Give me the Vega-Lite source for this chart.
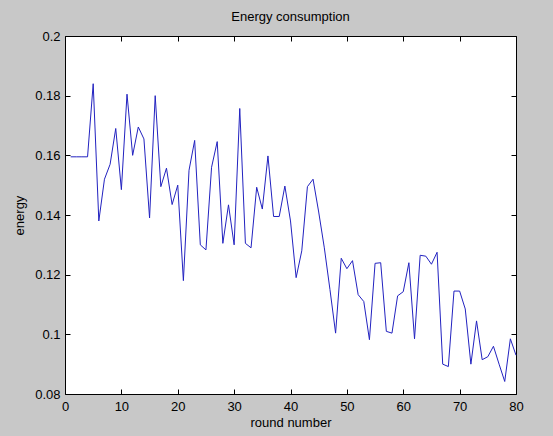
{
  "$schema": "https://vega.github.io/schema/vega-lite/v6.json",
  "autosize": "none",
  "width": 451,
  "height": 358,
  "padding": {"left": 65, "top": 36, "right": 37, "bottom": 42},
  "background": "#c8c8c8",
  "config": {
    "font": "Liberation Sans",
    "view": {"fill": "white", "stroke": "black", "strokeWidth": 1}
  },
  "title": {"text": "Energy consumption", "fontSize": 13, "fontWeight": "normal", "color": "black", "offset": 6, "frame": "group", "font": "Liberation Sans"},
  "data": {"values": [
    {"round": 1, "energy": 0.1595}, {"round": 2, "energy": 0.1595}, {"round": 3, "energy": 0.1595}, {"round": 4, "energy": 0.1595},
    {"round": 5, "energy": 0.184}, {"round": 6, "energy": 0.138}, {"round": 7, "energy": 0.152}, {"round": 8, "energy": 0.157},
    {"round": 9, "energy": 0.169}, {"round": 10, "energy": 0.1485}, {"round": 11, "energy": 0.1805}, {"round": 12, "energy": 0.16},
    {"round": 13, "energy": 0.1695}, {"round": 14, "energy": 0.1655}, {"round": 15, "energy": 0.139}, {"round": 16, "energy": 0.18},
    {"round": 17, "energy": 0.1495}, {"round": 18, "energy": 0.1557}, {"round": 19, "energy": 0.1435}, {"round": 20, "energy": 0.15},
    {"round": 21, "energy": 0.118}, {"round": 22, "energy": 0.155}, {"round": 23, "energy": 0.165}, {"round": 24, "energy": 0.13},
    {"round": 25, "energy": 0.1283}, {"round": 26, "energy": 0.156}, {"round": 27, "energy": 0.1646}, {"round": 28, "energy": 0.1305},
    {"round": 29, "energy": 0.1434}, {"round": 30, "energy": 0.13}, {"round": 31, "energy": 0.1757}, {"round": 32, "energy": 0.1305},
    {"round": 33, "energy": 0.129}, {"round": 34, "energy": 0.1493}, {"round": 35, "energy": 0.142}, {"round": 36, "energy": 0.1598},
    {"round": 37, "energy": 0.1395}, {"round": 38, "energy": 0.1395}, {"round": 39, "energy": 0.1497}, {"round": 40, "energy": 0.138},
    {"round": 41, "energy": 0.119}, {"round": 42, "energy": 0.128}, {"round": 43, "energy": 0.1495}, {"round": 44, "energy": 0.152},
    {"round": 45, "energy": 0.141}, {"round": 46, "energy": 0.129}, {"round": 47, "energy": 0.115}, {"round": 48, "energy": 0.1004},
    {"round": 49, "energy": 0.1255}, {"round": 50, "energy": 0.122}, {"round": 51, "energy": 0.1247}, {"round": 52, "energy": 0.1133},
    {"round": 53, "energy": 0.111}, {"round": 54, "energy": 0.0982}, {"round": 55, "energy": 0.1238}, {"round": 56, "energy": 0.124},
    {"round": 57, "energy": 0.101}, {"round": 58, "energy": 0.1004}, {"round": 59, "energy": 0.1129}, {"round": 60, "energy": 0.1143},
    {"round": 61, "energy": 0.124}, {"round": 62, "energy": 0.0985}, {"round": 63, "energy": 0.1265}, {"round": 64, "energy": 0.1262},
    {"round": 65, "energy": 0.1235}, {"round": 66, "energy": 0.1275}, {"round": 67, "energy": 0.09}, {"round": 68, "energy": 0.0892},
    {"round": 69, "energy": 0.1145}, {"round": 70, "energy": 0.1145}, {"round": 71, "energy": 0.1085}, {"round": 72, "energy": 0.09},
    {"round": 73, "energy": 0.1045}, {"round": 74, "energy": 0.0915}, {"round": 75, "energy": 0.0925}, {"round": 76, "energy": 0.096},
    {"round": 77, "energy": 0.09}, {"round": 78, "energy": 0.0842}, {"round": 79, "energy": 0.0985}, {"round": 80, "energy": 0.093}
  ]},
  "layer": [
    {
      "mark": {"type": "line", "color": "#2222c0", "strokeWidth": 1},
      "encoding": {
        "x": {"field": "round", "type": "quantitative",
          "scale": {"domain": [0, 80], "nice": false, "zero": false},
          "axis": {"orient": "bottom", "title": "round number", "values": [0,10,20,30,40,50,60,70,80],
            "grid": false, "domain": false, "tickColor": "black", "tickSize": -5, "labelPadding": 11, "labelFlush": false,
            "labelFontSize": 13, "labelColor": "black", "titleFontSize": 13, "titleFontWeight": "normal", "titleColor": "black", "titlePadding": 3}},
        "y": {"field": "energy", "type": "quantitative",
          "scale": {"domain": [0.08, 0.2], "nice": false, "zero": false},
          "axis": {"orient": "left", "title": "energy", "values": [0.08,0.1,0.12,0.14,0.16,0.18,0.2], "format": "~g",
            "grid": false, "domain": false, "tickColor": "black", "tickSize": -5, "labelPadding": 10, "labelFlush": false,
            "labelFontSize": 13, "labelColor": "black", "titleFontSize": 13, "titleFontWeight": "normal", "titleColor": "black", "titlePadding": 8}}
      }
    },
    {
      "mark": {"type": "line", "opacity": 0},
      "encoding": {
        "x": {"field": "round", "type": "quantitative",
          "axis": {"orient": "top", "title": null, "values": [0,10,20,30,40,50,60,70,80], "labels": false,
            "grid": false, "domain": false, "tickColor": "black", "tickSize": -5}},
        "y": {"field": "energy", "type": "quantitative",
          "axis": {"orient": "right", "title": null, "values": [0.08,0.1,0.12,0.14,0.16,0.18,0.2], "labels": false,
            "grid": false, "domain": false, "tickColor": "black", "tickSize": -5}}
      }
    }
  ],
  "resolve": {"axis": {"x": "independent", "y": "independent"}}
}
